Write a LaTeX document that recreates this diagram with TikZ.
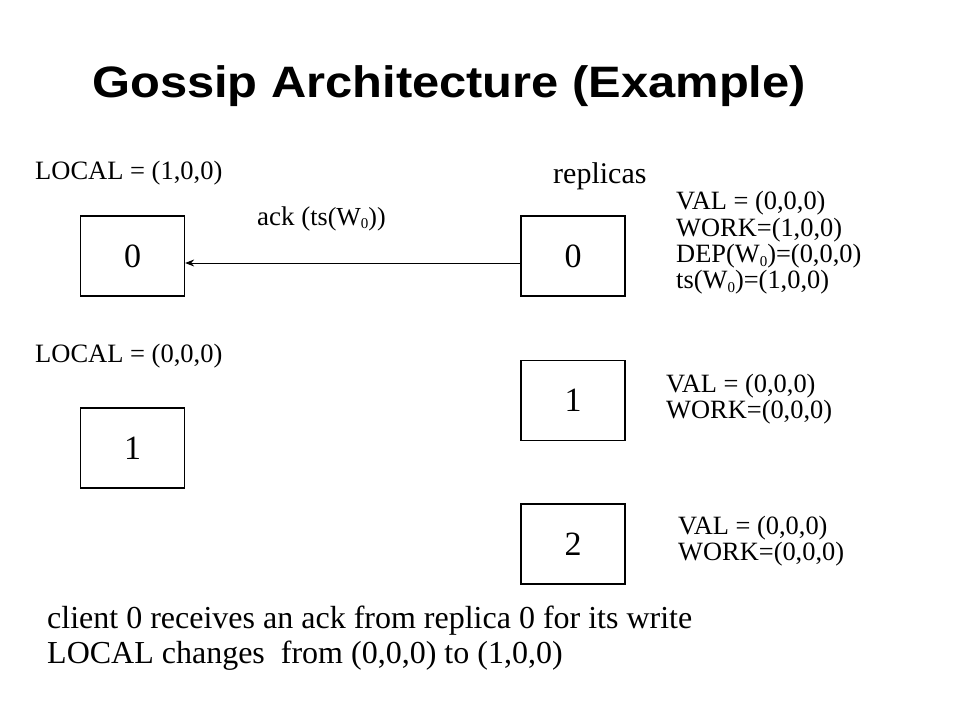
\documentclass[tikz,border=0pt]{standalone}
\usepackage{fontspec}
\setmainfont{Liberation Serif}
\newfontfamily\titlefont{Liberation Sans}[FakeStretch=1.11]
\usetikzlibrary{arrows.meta}
\newcommand{\lowsub}[1]{\raisebox{-3.5pt}{\fontsize{15}{15}\selectfont #1}}
\tikzset{
  box/.style={draw, line width=1.3pt, minimum width=104pt, minimum height=80pt,
              inner sep=0pt, font=\fontsize{34}{34}\selectfont},
  txt/.style={inner sep=0pt, anchor=base west, font=\fontsize{26.5}{26.5}\selectfont},
  blk/.style={inner sep=0pt, anchor=west, align=left, font=\fontsize{26.4}{26.4}\selectfont},
  arr/.style={line width=0.9pt, -{Stealth[length=9pt,width=7pt]}},
}
\begin{document}
\begin{tikzpicture}[x=1pt,y=-1pt]
\useasboundingbox (0,0) rectangle (960,720);
\fill[white] (0,0) rectangle (960,720);

\node[inner sep=0pt, anchor=base west, font=\titlefont\bfseries\fontsize{44}{44}\selectfont]
  (title) at (92,97) {Gossip Architecture (Example)};

\node[txt] (local0) at (35,179) {LOCAL = (1,0,0)};
\node[txt] (local1) at (35,362) {LOCAL = (0,0,0)};
\node[txt, font=\fontsize{30}{30}\selectfont] (repl) at (553,183) {replicas};

\node[box] (c0) at (132.5,256) {0};
\node[box] (c1) at (132.5,448) {1};
\node[box] (r0) at (573,256) {0};
\node[box] (r1) at (573,400.5) {1};
\node[box] (r2) at (573,544) {2};

\draw[arr] ([yshift=-7pt]r0.west) -- ([yshift=-7pt]c0.east);
\node[inner sep=0pt, anchor=base west] (ack) at (257,225)
  {{\fontsize{27}{27}\selectfont ack (}{\fontsize{26}{26}\selectfont ts(W\lowsub{0}))}};

\node[blk] (s0) at (676,243) {VAL = (0,0,0)\\WORK=(1,0,0)\\DEP(W\lowsub{0})=(0,0,0)\\ts(W\lowsub{0})=(1,0,0)};
\node[blk] (s1) at (666,399) {VAL = (0,0,0)\\WORK=(0,0,0)};
\node[blk] (s2) at (678,541) {VAL = (0,0,0)\\WORK=(0,0,0)};

\node[inner sep=0pt, anchor=west, align=left, font=\fontsize{32}{35}\selectfont] (note) at (47,638)
  {client 0 receives an ack from replica 0 for its write\\LOCAL changes\ \ from (0,0,0) to (1,0,0)};
\end{tikzpicture}
\end{document}
